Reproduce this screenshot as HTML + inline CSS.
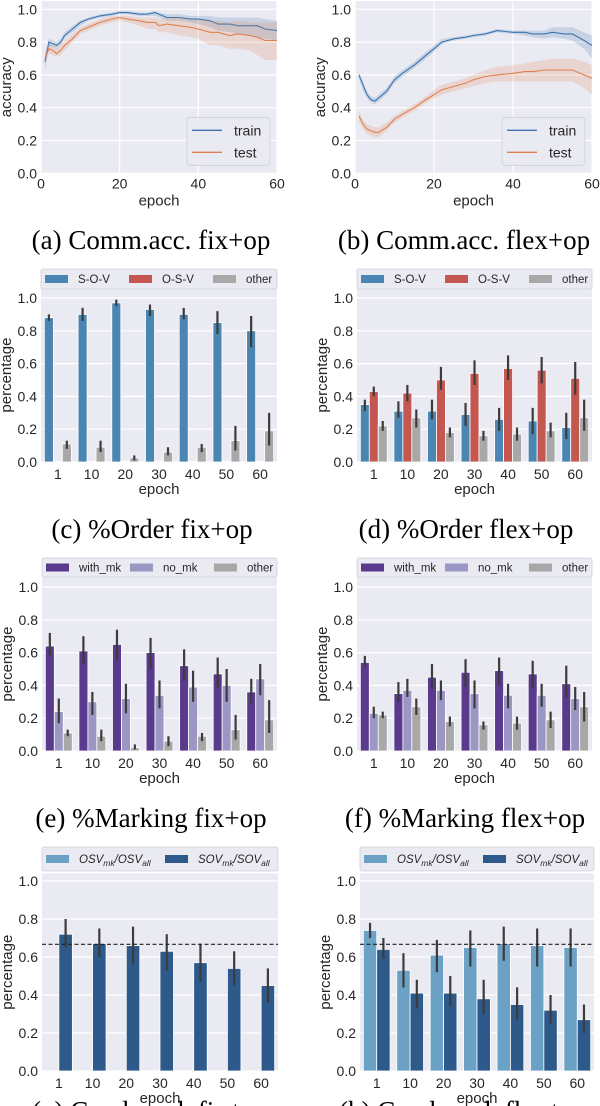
<!DOCTYPE html>
<html><head><meta charset="utf-8"><style>
html,body{margin:0;padding:0;background:#fff;}
svg{display:block;}
text{font-family:"Liberation Sans",sans-serif;}
.cap{font-family:"Liberation Serif",serif;font-size:27px;fill:#000;}
</style></head><body>
<svg id="fig" width="600" height="1106" viewBox="0 0 600 1106" xmlns="http://www.w3.org/2000/svg"></svg>
<script>
// ---------- data ----------
const epochCats = ["1","10","20","30","40","50","60"];
const lineTicksX = [0,20,40,60];
const yTicks = [0,0.2,0.4,0.6,0.8,1.0];
const yTickLabels = ["0.0","0.2","0.4","0.6","0.8","1.0"];

// (a) fix+op accuracy
const aEpochs = [1,2,3,4,5,6,8,10,12,15,18,20,22,25,27,29,30,32,35,38,40,43,45,48,50,53,55,57,60];
const aTrain = [0.68,0.80,0.79,0.78,0.80,0.84,0.88,0.92,0.94,0.96,0.97,0.98,0.98,0.97,0.97,0.98,0.97,0.95,0.95,0.94,0.94,0.93,0.91,0.91,0.90,0.90,0.90,0.88,0.87];
const aTrainLo = [0.63,0.77,0.77,0.76,0.78,0.82,0.86,0.90,0.93,0.95,0.96,0.97,0.97,0.96,0.96,0.96,0.95,0.93,0.93,0.92,0.91,0.89,0.87,0.86,0.85,0.84,0.83,0.82,0.81];
const aTrainHi = [0.72,0.82,0.81,0.80,0.82,0.86,0.90,0.93,0.95,0.97,0.98,0.99,0.99,0.98,0.98,0.99,0.98,0.97,0.97,0.96,0.96,0.96,0.95,0.95,0.95,0.95,0.95,0.94,0.93];
const aTest = [0.70,0.76,0.75,0.73,0.75,0.78,0.82,0.87,0.89,0.92,0.94,0.95,0.94,0.93,0.92,0.92,0.90,0.91,0.90,0.89,0.88,0.86,0.86,0.84,0.85,0.84,0.83,0.81,0.81];
const aTestLo = [0.66,0.73,0.72,0.71,0.72,0.75,0.80,0.85,0.87,0.90,0.92,0.93,0.92,0.90,0.88,0.88,0.86,0.86,0.84,0.83,0.82,0.78,0.78,0.76,0.76,0.75,0.72,0.69,0.69];
const aTestHi = [0.73,0.79,0.78,0.76,0.78,0.81,0.85,0.89,0.91,0.94,0.96,0.96,0.96,0.95,0.95,0.95,0.94,0.95,0.95,0.94,0.94,0.93,0.93,0.92,0.93,0.92,0.92,0.92,0.92];

// (b) flex+op accuracy
const bEpochs = [1,2,3,4,5,6,8,10,12,15,18,20,22,25,28,30,33,36,40,43,45,48,50,53,55,58,60];
const bTrain = [0.60,0.54,0.48,0.45,0.44,0.46,0.50,0.57,0.61,0.66,0.72,0.76,0.80,0.82,0.83,0.84,0.85,0.87,0.86,0.86,0.85,0.85,0.86,0.85,0.85,0.81,0.78];
const bTrainLo = [0.58,0.51,0.46,0.43,0.42,0.44,0.48,0.55,0.59,0.64,0.70,0.74,0.79,0.81,0.82,0.83,0.84,0.86,0.85,0.84,0.83,0.82,0.83,0.82,0.81,0.76,0.70];
const bTrainHi = [0.62,0.56,0.50,0.47,0.46,0.48,0.52,0.59,0.63,0.68,0.74,0.78,0.82,0.83,0.84,0.85,0.86,0.88,0.87,0.87,0.87,0.87,0.89,0.89,0.89,0.86,0.84];
const bTest = [0.35,0.30,0.27,0.26,0.25,0.25,0.28,0.33,0.36,0.40,0.45,0.48,0.51,0.53,0.55,0.57,0.59,0.60,0.61,0.62,0.62,0.63,0.63,0.63,0.63,0.60,0.58];
const bTestLo = [0.32,0.27,0.24,0.23,0.22,0.22,0.26,0.31,0.34,0.38,0.43,0.46,0.48,0.50,0.52,0.53,0.55,0.56,0.56,0.56,0.56,0.56,0.56,0.56,0.56,0.52,0.48];
const bTestHi = [0.38,0.33,0.30,0.29,0.28,0.28,0.31,0.35,0.38,0.42,0.47,0.51,0.54,0.56,0.58,0.60,0.63,0.65,0.66,0.67,0.68,0.69,0.70,0.70,0.70,0.68,0.66];

// (c) order fix+op
const cSOV = [0.88,0.90,0.97,0.93,0.90,0.85,0.80];
const cSOVlo = [0.86,0.86,0.95,0.89,0.87,0.78,0.70];
const cSOVhi = [0.90,0.94,0.99,0.96,0.94,0.92,0.89];
const cOSV = [0.005,0.005,0.005,0.005,0.005,0.005,0.005];
const cOther = [0.11,0.09,0.025,0.06,0.09,0.13,0.19];
const cOtherLo = [0.08,0.06,0.01,0.04,0.06,0.07,0.10];
const cOtherHi = [0.13,0.13,0.04,0.09,0.11,0.22,0.30];

// (d) order flex+op
const dSOV = [0.35,0.31,0.31,0.29,0.26,0.25,0.21];
const dSOVlo = [0.31,0.27,0.26,0.22,0.19,0.17,0.14];
const dSOVhi = [0.38,0.37,0.38,0.36,0.33,0.33,0.30];
const dOSV = [0.43,0.42,0.50,0.54,0.57,0.56,0.51];
const dOSVlo = [0.40,0.37,0.44,0.47,0.50,0.48,0.41];
const dOSVhi = [0.46,0.47,0.58,0.62,0.65,0.64,0.61];
const dOther = [0.22,0.27,0.18,0.16,0.17,0.19,0.27];
const dOtherLo = [0.19,0.21,0.15,0.13,0.13,0.15,0.19];
const dOtherHi = [0.25,0.32,0.21,0.19,0.21,0.24,0.38];

// (e) marking fix+op
const eWith = [0.64,0.61,0.65,0.60,0.52,0.47,0.36];
const eWithLo = [0.58,0.53,0.55,0.50,0.43,0.38,0.29];
const eWithHi = [0.72,0.70,0.74,0.69,0.62,0.57,0.44];
const eNo = [0.24,0.30,0.32,0.34,0.39,0.40,0.44];
const eNoLo = [0.17,0.22,0.23,0.26,0.30,0.30,0.34];
const eNoHi = [0.32,0.36,0.41,0.43,0.49,0.50,0.53];
const eOther = [0.11,0.09,0.02,0.06,0.09,0.13,0.19];
const eOtherLo = [0.09,0.06,0.01,0.03,0.06,0.07,0.11];
const eOtherHi = [0.13,0.13,0.04,0.09,0.11,0.22,0.31];

// (f) marking flex+op
const fWith = [0.54,0.35,0.45,0.48,0.49,0.47,0.41];
const fWithLo = [0.51,0.30,0.38,0.39,0.40,0.38,0.32];
const fWithHi = [0.58,0.42,0.53,0.56,0.57,0.55,0.52];
const fNo = [0.23,0.37,0.37,0.35,0.34,0.34,0.32];
const fNoLo = [0.20,0.33,0.31,0.26,0.26,0.27,0.25];
const fNoHi = [0.27,0.44,0.43,0.43,0.41,0.41,0.39];
const fOther = [0.22,0.27,0.18,0.16,0.17,0.19,0.27];
const fOtherLo = [0.20,0.22,0.15,0.13,0.13,0.14,0.18];
const fOtherHi = [0.24,0.32,0.21,0.18,0.21,0.24,0.36];

// (g) conditional marking fix+op
const gOSV = [0,0,0,0,0,0,0];
const gSOV = [0.72,0.67,0.66,0.63,0.57,0.54,0.45];
const gSOVlo = [0.65,0.60,0.56,0.53,0.47,0.45,0.36];
const gSOVhi = [0.80,0.75,0.76,0.72,0.67,0.63,0.54];

// (h) conditional marking flex+op
const hOSV = [0.74,0.53,0.61,0.65,0.67,0.66,0.65];
const hOSVlo = [0.70,0.44,0.52,0.55,0.58,0.55,0.55];
const hOSVhi = [0.78,0.62,0.69,0.74,0.76,0.75,0.75];
const hSOV = [0.64,0.41,0.41,0.38,0.35,0.32,0.27];
const hSOVlo = [0.59,0.33,0.34,0.30,0.27,0.25,0.20];
const hSOVhi = [0.70,0.48,0.50,0.48,0.44,0.40,0.35];
const refLine = 0.667;

// ---------- drawing helpers ----------
const svg = document.getElementById('fig');
const NS = 'http://www.w3.org/2000/svg';
function mk(tag, attrs, parent){
  const el = document.createElementNS(NS, tag);
  for (const k in attrs) el.setAttribute(k, attrs[k]);
  (parent||svg).appendChild(el);
  return el;
}
function txt(s, x, y, size, anchor, parent, extra){
  const t = mk('text', Object.assign({x:x, y:y, 'font-size':size, 'text-anchor':anchor||'middle', fill:'#262626'}, extra||{}), parent);
  t.textContent = s;
  return t;
}

function axesFrame(g, cfg, isLine){
  const Y = v => cfg.y0 - v*(cfg.y0 - cfg.y1);
  const bg = mk('rect', {x:cfg.x0, y:Y(cfg.ymax), width:cfg.x1-cfg.x0, height:cfg.y0-Y(cfg.ymax), fill:'#eaeaf2'}, g);
  
  
  yTicks.forEach((v,i)=>{
    const l = mk('line', {x1:cfg.x0, x2:cfg.x1, y1:Y(v), y2:Y(v), stroke:'#fff', 'stroke-width':1.2}, g);
    
    
    const t = txt(yTickLabels[i], cfg.x0-4, Y(v)+5, 14, 'end', g);
    
    
  });
  const mid = (cfg.y0 + Y(cfg.ymax))/2;
  const yl = txt(cfg.ylabel, 0, 0, 15, 'middle', g, {transform:`translate(${cfg.x0-30},${mid}) rotate(-90)`});
  
  
  const xl = txt('epoch', (cfg.x0+cfg.x1)/2, cfg.y0+32, 15, 'middle', g);
  
  
  return Y;
}

function linePanel(cfg, series){
  const g = mk('g', {});
  
  
  const Y = axesFrame(g, cfg, true);
  const X = v => cfg.x0 + v/60*(cfg.x1-cfg.x0);
  lineTicksX.forEach(v=>{
    const l = mk('line', {x1:X(v), x2:X(v), y1:cfg.y0, y2:Y(cfg.ymax), stroke:'#fff', 'stroke-width':1.2}, g);
    
    
    const t = txt(String(v), X(v), cfg.y0+15, 14, 'middle', g);
    
    
  });
  series.forEach(s=>{
    let d = '';
    s.x.forEach((e,i)=>{ d += (i?'L':'M') + X(e).toFixed(1) + ',' + Y(s.hi[i]).toFixed(1); });
    for (let i=s.x.length-1;i>=0;i--) d += 'L' + X(s.x[i]).toFixed(1) + ',' + Y(s.lo[i]).toFixed(1);
    const band = mk('path', {d:d+'Z', fill:s.color, 'fill-opacity':0.2, stroke:'none'}, g);
    
    
    const pts = s.x.map((e,i)=>X(e).toFixed(1)+','+Y(s.y[i]).toFixed(1)).join(' ');
    const pl = mk('polyline', {points:pts, fill:'none', stroke:s.color, 'stroke-width':1.1}, g);
    
    
  });
  const lg = mk('g', {}, g);
  
  
  const lx = cfg.x1 - 90, ly = Y(0.0) - 56;
  mk('rect', {x:lx, y:ly, width:83, height:48, rx:3, fill:'#eaeaf2', stroke:'#cfcfd8', 'stroke-width':0.8}, lg);
  series.forEach((s,i)=>{
    const yy = ly + 13 + i*22;
    const e = mk('g', {}, lg);
    
    
    mk('line', {x1:lx+5, x2:lx+35, y1:yy, y2:yy, stroke:s.color, 'stroke-width':1.3}, e);
    txt(s.label, lx+47, yy+5, 14, 'start', e);
  });
  return g;
}

function barPanel(cfg, series){
  const g = mk('g', {});
  
  
  const Y = axesFrame(g, cfg, false);
  const n = epochCats.length;
  const gw = (cfg.x1 - cfg.x0)/n;
  const bw = 0.8*gw/series.length;
  epochCats.forEach((c,i)=>{
    const t = txt(c, cfg.x0 + (i+0.5)*gw, cfg.y0+17, 14, 'middle', g);
    
    
  });
  series.forEach((s,j)=>{
    s.v.forEach((v,i)=>{
      const left = cfg.x0 + (i+0.5)*gw - 0.4*gw + j*bw;
      if (v > 0){
        const r = mk('rect', {x:left, y:Y(v), width:bw, height:Y(0)-Y(v), fill:s.color, stroke:'#fff', 'stroke-width':0.8}, g);
        
        
      }
      if (s.lo && s.hi){
        const eb = mk('line', {x1:left+bw/2, x2:left+bw/2, y1:Y(s.lo[i]), y2:Y(s.hi[i]), stroke:'#3c3c3c', 'stroke-width':2.2}, g);
        
        
      }
    });
  });
  if (cfg.ref !== undefined){
    const rl = mk('line', {x1:cfg.x0, x2:cfg.x1, y1:Y(cfg.ref), y2:Y(cfg.ref), stroke:'#222', 'stroke-width':1.1, 'stroke-dasharray':'4,2.5'}, g);
    
    
  }
  const lg = mk('g', {}, g);
  
  
  mk('rect', {x:cfg.x0, y:cfg.legY, width:cfg.x1-cfg.x0, height:cfg.legH, rx:2, fill:'#eaeaf2', stroke:'#cfcfd8', 'stroke-width':0.8}, lg);
  series.forEach((s,j)=>{
    const px = cfg.x0 + 4 + j*cfg.legStep;
    const cy = cfg.legY + cfg.legH/2;
    const e = mk('g', {}, lg);
    
    
    mk('rect', {x:px, y:cy-4, width:23, height:8, fill:s.color}, e);
    const t = mk('text', {x:px+33, y:cy+4, 'font-size':11.5, fill:'#262626'}, e);
    if (s.sub){
      s.sub.forEach(part=>{
        const ts = mk('tspan', {'font-style':'italic', 'font-size': part[1] ? 8.5 : 11.5, dy: part[1] ? 3 : (part[2]||0)}, t);
        ts.textContent = part[0];
      });
    } else t.textContent = s.label;
  });
  return g;
}

// ---------- colors ----------
const cTrain = '#3b75af', cTest = '#e1804f';
const cSov = '#4a86b1', cOsv = '#c4574f', cOth = '#a8a8a8';
const cWith = '#5a3a8c', cNo = '#9b96c4';
const cLight = '#6ba1c4', cDark = '#2d5a8a';

// ---------- panels ----------
linePanel({name:'panel-a-accuracy-fix', x0:41, x1:277, y0:173.3, y1:9.3, ymax:1.05, ylabel:'accuracy'}, [
  {label:'train', color:cTrain, x:aEpochs, y:aTrain, lo:aTrainLo, hi:aTrainHi},
  {label:'test', color:cTest, x:aEpochs, y:aTest, lo:aTestLo, hi:aTestHi}
]);
linePanel({name:'panel-b-accuracy-flex', x0:355, x1:592, y0:173.3, y1:9.3, ymax:1.05, ylabel:'accuracy'}, [
  {label:'train', color:cTrain, x:bEpochs, y:bTrain, lo:bTrainLo, hi:bTrainHi},
  {label:'test', color:cTest, x:bEpochs, y:bTest, lo:bTestLo, hi:bTestHi}
]);

barPanel({name:'panel-c-order-fix', x0:41, x1:277, y0:462, y1:298, ymax:1.06, ylabel:'percentage', legY:269, legH:20, legStep:84}, [
  {key:'S-O-V', label:'S-O-V', color:cSov, v:cSOV, lo:cSOVlo, hi:cSOVhi},
  {key:'O-S-V', label:'O-S-V', color:cOsv, v:cOSV},
  {key:'other', label:'other', color:cOth, v:cOther, lo:cOtherLo, hi:cOtherHi}
]);
barPanel({name:'panel-d-order-flex', x0:357, x1:592, y0:462, y1:298, ymax:1.06, ylabel:'percentage', legY:269, legH:20, legStep:84}, [
  {key:'S-O-V', label:'S-O-V', color:cSov, v:dSOV, lo:dSOVlo, hi:dSOVhi},
  {key:'O-S-V', label:'O-S-V', color:cOsv, v:dOSV, lo:dOSVlo, hi:dOSVhi},
  {key:'other', label:'other', color:cOth, v:dOther, lo:dOtherLo, hi:dOtherHi}
]);

barPanel({name:'panel-e-marking-fix', x0:42, x1:277, y0:751, y1:587, ymax:1.06, ylabel:'percentage', legY:558, legH:19, legStep:84}, [
  {key:'with_mk', label:'with_mk', color:cWith, v:eWith, lo:eWithLo, hi:eWithHi},
  {key:'no_mk', label:'no_mk', color:cNo, v:eNo, lo:eNoLo, hi:eNoHi},
  {key:'other', label:'other', color:cOth, v:eOther, lo:eOtherLo, hi:eOtherHi}
]);
barPanel({name:'panel-f-marking-flex', x0:357, x1:592, y0:751, y1:587, ymax:1.06, ylabel:'percentage', legY:558, legH:19, legStep:84}, [
  {key:'with_mk', label:'with_mk', color:cWith, v:fWith, lo:fWithLo, hi:fWithHi},
  {key:'no_mk', label:'no_mk', color:cNo, v:fNo, lo:fNoLo, hi:fNoHi},
  {key:'other', label:'other', color:cOth, v:fOther, lo:fOtherLo, hi:fOtherHi}
]);

const subOSV = [['OSV',0],['mk',1],['/OSV',0,-3],['all',1]];
const subSOV = [['SOV',0],['mk',1],['/SOV',0,-3],['all',1]];
barPanel({name:'panel-g-condmark-fix', x0:42, x1:278, y0:1071, y1:881, ymax:1.04, ylabel:'percentage', legY:847, legH:24, legStep:119, ref:refLine}, [
  {key:'osv-ratio', color:cLight, v:gOSV, sub:subOSV},
  {key:'sov-ratio', color:cDark, v:gSOV, lo:gSOVlo, hi:gSOVhi, sub:subSOV}
]);
barPanel({name:'panel-h-condmark-flex', x0:360, x1:594, y0:1071, y1:881, ymax:1.04, ylabel:'percentage', legY:847, legH:24, legStep:119, ref:refLine}, [
  {key:'osv-ratio', color:cLight, v:hOSV, lo:hOSVlo, hi:hOSVhi, sub:subOSV},
  {key:'sov-ratio', color:cDark, v:hSOV, lo:hSOVlo, hi:hSOVhi, sub:subSOV}
]);

// ---------- captions ----------
const caps = [
  ['(a) Comm.acc. fix+op', 151, 249, 'caption-a'],
  ['(b) Comm.acc. flex+op', 464, 249, 'caption-b'],
  ['(c) %Order fix+op', 152, 538, 'caption-c'],
  ['(d) %Order flex+op', 466, 538, 'caption-d'],
  ['(e) %Marking fix+op', 151, 827, 'caption-e'],
  ['(f) %Marking flex+op', 465, 827, 'caption-f'],
  ['(g) Cond.mark fix+op', 151, 1120, 'caption-g'],
  ['(h) Cond.mark flex+op', 464, 1120, 'caption-h']
];
caps.forEach(c=>{
  const t = mk('text', {x:c[1], y:c[2], 'text-anchor':'middle', class:'cap'});
  t.textContent = c[0];
  
  
});
</script>
</body></html>
